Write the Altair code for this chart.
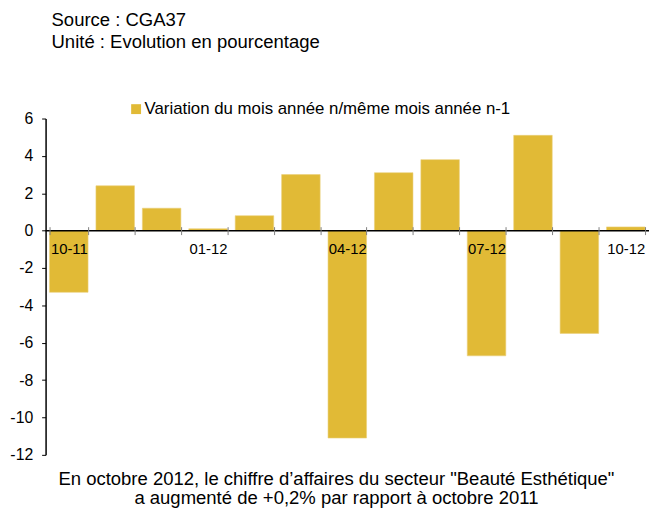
import altair as alt
import pandas as pd

months = ["10-11", "11-11", "12-11", "01-12", "02-12", "03-12", "04-12",
          "05-12", "06-12", "07-12", "08-12", "09-12", "10-12"]
values = [-3.3, 2.4, 1.2, 0.1, 0.8, 3.0, -11.1, 3.1, 3.8, -6.7, 5.1, -5.5, 0.2]
shown_labels = ["10-11", "01-12", "04-12", "07-12", "10-12"]
y_ticks = [-12, -10, -8, -6, -4, -2, 0, 2, 4, 6]
y_domain = [-12, 6]
series_name = "Variation du mois année n/même mois année n-1"
header = ["Source : CGA37", "Unité : Evolution en pourcentage"]
footer = ["En octobre 2012, le chiffre d’affaires du secteur \"Beauté Esthétique\"",
          "a augmenté de +0,2% par rapport à octobre 2011"]

FONT = "Liberation Sans"
BAR = "#E1BA36"
W, H = 610, 340

df = pd.DataFrame({"mois": months, "valeur": values, "serie": series_name})
zero_px = H * (y_domain[1] - 0) / (y_domain[1] - y_domain[0])

label_list = "[" + ",".join("'" + s + "'" for s in shown_labels) + "]"

x_enc = alt.X(
    "mois:N", sort=months,
    scale=alt.Scale(paddingInner=0.17, paddingOuter=0.085),
    axis=alt.Axis(
        title=None, orient="bottom", offset=(zero_px - 4) - H,
        domain=False, tickBand="extent", tickSize=8, tickColor="#808080",
        tickWidth=1, labelAngle=0, labelOverlap=False,
        labelExpr="indexof(" + label_list + ", datum.value) >= 0 ? datum.value : ''",
        labelFont=FONT, labelFontSize=15, labelColor="black", labelPadding=7,
        labelBaseline="top", zindex=1,
    ),
)

y_enc = alt.Y(
    "valeur:Q",
    scale=alt.Scale(domain=y_domain, nice=False, zero=False),
    axis=alt.Axis(
        title=None, values=y_ticks, grid=False, domainColor="black",
        domainWidth=1.5, tickColor="black", tickSize=4, labelFont=FONT,
        labelFontSize=16, labelColor="black", labelPadding=9,
        labelOverlap=False, labelFlush=False, labelBound=False,
        labelExpr="toString(datum.value)",
    ),
)

bars = alt.Chart(df).mark_bar(stroke="#EBCF7A", strokeWidth=0.6).encode(
    x=x_enc, y=y_enc,
    color=alt.Color(
        "serie:N", scale=alt.Scale(range=[BAR]),
        legend=alt.Legend(
            title=None, orient="none", legendX=83, legendY=-18,
            symbolType="square", symbolSize=100, symbolStrokeWidth=0,
            labelFont=FONT, labelFontSize=17, labelColor="black",
            labelLimit=700, padding=0, labelOffset=0,
        ),
    ),
)

zero_rule = alt.Chart(pd.DataFrame({"valeur": [0]})).mark_rule(
    color="black", strokeWidth=1.5
).encode(y=y_enc)

foot = alt.Chart(pd.DataFrame({"k": [0]})).mark_text(
    font=FONT, fontSize=18.7, color="black", align="center",
    baseline="alphabetic", lineHeight=20,
).encode(x=alt.value(294), y=alt.value(H + 30), text=alt.value(footer))

chart = alt.layer(bars, zero_rule, foot).properties(
    width=W, height=H,
    autosize=alt.AutoSizeParams(type="none"),
    padding={"left": 38, "top": 109, "right": 0, "bottom": 52},
    title=alt.TitleParams(
        header, anchor="start", frame="group", font=FONT, fontSize=18.7,
        fontWeight="normal", color="black", dx=6, offset=35, lineHeight=22,
        baseline="alphabetic",
    ),
).configure_view(stroke=None)

chart.save("out.html", embed_options={"renderer": "svg", "actions": False})
